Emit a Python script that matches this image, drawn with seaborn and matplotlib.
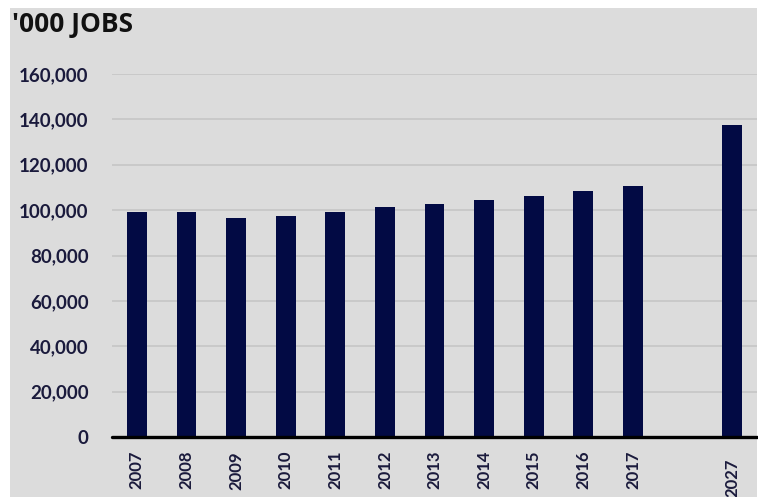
import matplotlib
matplotlib.use("Agg")
import matplotlib.pyplot as plt
import matplotlib.transforms as mtransforms
from matplotlib.patches import Rectangle
import seaborn as sns
import pandas as pd

# Employment, thousands of jobs
years = ["2007", "2008", "2009", "2010", "2011", "2012", "2013",
         "2014", "2015", "2016", "2017", "2027"]
jobs = [99200, 99200, 96400, 97500, 99100, 101200, 102600,
        104400, 106400, 108400, 110500, 137500]
# blank slot separates the history from the projection
order = years[:-1] + [" "] + years[-1:]
yticks = [0, 20000, 40000, 60000, 80000, 100000, 120000, 140000, 160000]

sns.set_theme(style="white")
plt.rcParams["font.family"] = ["Lato", "DejaVu Sans"]

BG = "#dcdcdc"
NAVY = "#020a44"
TXT = "#1a1a3c"

df = pd.DataFrame({"year": years, "jobs": jobs})

fig = plt.figure(figsize=(7.58, 4.97), dpi=100, facecolor="white")
W, H = 758, 497
fig.patches.append(Rectangle((10 / W, 0), (757 - 10) / W, (497 - 8) / H,
                             transform=fig.transFigure, facecolor=BG,
                             edgecolor="none", zorder=-10))

ax = fig.add_axes([112 / W, (H - 437) / H, (757 - 112) / W, (437 - 74) / H])
ax.set_facecolor(BG)

sns.barplot(data=df, x="year", y="jobs", order=order, color=NAVY,
            width=0.4, saturation=1, linewidth=0, ax=ax, zorder=3)

ax.set_ylim(0, 160000)
ax.set_xlim(-0.5, len(order) - 0.5)
ax.set_yticks(yticks)
ax.set_yticklabels([f"{v:,}" for v in yticks], fontsize=13.5,
                   fontweight="bold", color=TXT)
for v in yticks[1:]:
    ax.axhline(v, color="#c6c6c6", lw=1.2, zorder=1)
ax.axhline(0, color="black", lw=2.4, zorder=4, clip_on=False)

ax.tick_params(axis="y", length=0, pad=17)
ax.tick_params(axis="x", length=0, pad=10)
for lbl in ax.get_xticklabels():
    lbl.set_rotation(90)
    lbl.set_fontsize(12)
    lbl.set_fontweight("bold")
    lbl.set_color(TXT)
    if lbl.get_text() == "2027":
        lbl.set_transform(lbl.get_transform() + mtransforms.ScaledTranslation(0, -8 / 100, fig.dpi_scale_trans))

ax.set_xlabel("")
ax.set_ylabel("")
for s in ax.spines.values():
    s.set_visible(False)

fig.text(12 / W, 1 - 25 / H, "'000 JOBS", fontsize=19, fontweight="bold",
         family=["Open Sans", "DejaVu Sans"],
         color="#111111", ha="left", va="center")

fig.savefig("out.png", dpi=100, facecolor="white")
